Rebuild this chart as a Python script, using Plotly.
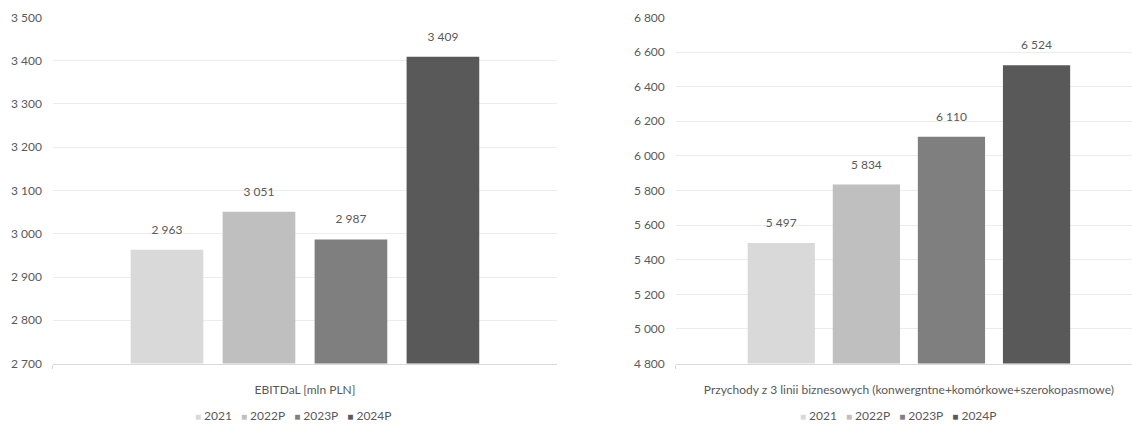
import plotly.graph_objects as go

# Data
series = ["2021", "2022P", "2023P", "2024P"]
ebitdal_category = ["EBITDaL [mln PLN]"]
ebitdal_values = [2963, 3051, 2987, 3409]
revenue_category = ["Przychody z 3 linii biznesowych (konwergntne+komórkowe+szerokopasmowe)"]
revenue_values = [5497, 5834, 6110, 6524]
ebitdal_ticks = [2700, 2800, 2900, 3000, 3100, 3200, 3300, 3400, 3500]
revenue_ticks = [4800, 5000, 5200, 5400, 5600, 5800, 6000, 6200, 6400, 6600, 6800]

colors = ["#d9d9d9", "#bfbfbf", "#7f7f7f", "#595959"]
FONT = "Lato, 'Open Sans', sans-serif"
TEXT = "#595959"
GRID = "#ececec"
AXIS = "#d9d9d9"

fig = go.Figure()

panels = [
    (ebitdal_category, ebitdal_values, "x", "y"),
    (revenue_category, revenue_values, "x2", "y2"),
]
for cat, values, xa, ya in panels:
    for name, val, col in zip(series, values, colors):
        fig.add_trace(go.Bar(
            x=cat, y=[val], name=name, marker_color=col, marker_line_width=0,
            xaxis=xa, yaxis=ya, showlegend=False, hoverinfo="skip",
        ))
    # value labels, grouped like the bars
    for name, val in zip(series, values):
        fig.add_trace(go.Scatter(
            x=cat, y=[val], name=name, mode="markers+text",
            marker=dict(size=19, opacity=0), texttemplate="%{y:,}",
            textposition="top center",
            textfont=dict(family=FONT, size=12, color=TEXT),
            xaxis=xa, yaxis=ya, showlegend=False, hoverinfo="skip",
        ))

def legend_text():
    items = [
        f"<span style='color:{c};font-size:10px'>■</span> {s}"
        for s, c in zip(series, colors)
    ]
    return "\u2003".join(items)

xaxis_common = dict(
    type="category", showgrid=False, showline=True, linecolor=AXIS, linewidth=1,
    ticks="outside", tickson="boundaries", ticklen=4, tickcolor=AXIS,
    tickfont=dict(family=FONT, size=12, color=TEXT), ticklabelstandoff=15,
    fixedrange=True,
)
yaxis_common = dict(
    showgrid=True, gridcolor=GRID, gridwidth=1, zeroline=False, showline=False,
    tickformat=",d", tickfont=dict(family=FONT, size=12, color=TEXT),
    ticks="", ticklabelstandoff=10, domain=[0.1371, 0.977], fixedrange=True,
)

fig.update_layout(
    width=1132, height=427,
    margin=dict(l=0, r=0, t=0, b=0),
    paper_bgcolor="white", plot_bgcolor="white",
    separators=", ",
    barmode="group", bargap=0.27, bargroupgap=0.21,
    scattermode="group",
    font=dict(family=FONT, size=12, color=TEXT),
    xaxis=dict(xaxis_common, domain=[0.0468, 0.492], range=[-0.5, 0.5], anchor="y"),
    yaxis=dict(yaxis_common, range=[2700, 3500], tickvals=ebitdal_ticks, anchor="x"),
    xaxis2=dict(xaxis_common, domain=[0.597, 1.0], range=[-0.5, 0.4785], anchor="y2"),
    yaxis2=dict(yaxis_common, range=[4800, 6800], tickvals=revenue_ticks, anchor="x2"),
    annotations=[
        dict(text=legend_text(), xref="paper", yref="paper", x=0.2588, y=0.011,
             xanchor="center", yanchor="middle", showarrow=False,
             font=dict(family=FONT, size=12, color=TEXT)),
        dict(text=legend_text(), xref="paper", yref="paper", x=0.793, y=0.011,
             xanchor="center", yanchor="middle", showarrow=False,
             font=dict(family=FONT, size=12, color=TEXT)),
    ],
)

fig.write_html("out.html")
